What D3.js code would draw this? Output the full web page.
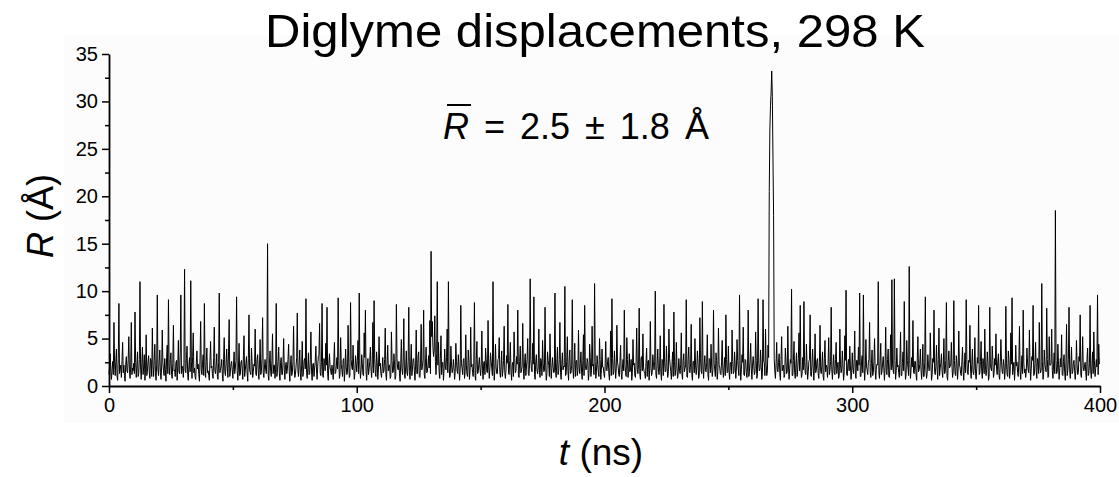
<!DOCTYPE html>
<head>
  <meta charset="utf-8">
  <script src="https://cdn.jsdelivr.net/npm/d3@7/dist/d3.min.js"></script>
  <style>
    body { margin:0; background:#fff; font-family:"Liberation Sans", Arial, sans-serif; }
    svg text { fill:#000; white-space:pre; }
  </style>
</head>
<body>
<script>
// R (Angstrom); one row = 10 ns
// samples at t = 0, 0.5, 1.0 ... ns
var rWhole = [
  1.2,3.4,0.7,2.6,6.7,1.1,3.9,0.6,8.7,1.8,0.9,4.6,2.2,0.5,3.1,1.4,5.2,0.8,6.7,1.9,
  2.4,7.8,0.9,3.6,1.3,11.0,0.7,4.1,2.0,0.6,5.4,1.5,3.2,0.8,2.7,6.1,1.0,4.4,0.6,9.6,
  1.1,3.8,0.7,5.9,1.6,2.9,0.5,4.3,9.1,1.2,3.5,0.8,6.4,1.7,2.5,0.6,4.8,1.3,9.6,2.1,
  0.9,12.3,1.4,4.2,0.6,3.0,11.1,0.8,5.6,1.9,0.7,3.7,2.3,0.5,6.8,1.2,3.3,8.7,0.9,4.0,
  1.6,0.6,4.7,2.1,0.8,6.2,1.3,3.4,0.7,9.8,1.8,2.8,0.5,5.1,1.1,3.9,0.9,7.0,1.5,2.6,
  0.8,3.6,1.9,9.4,0.6,4.5,1.2,2.7,0.7,5.3,1.6,3.1,0.5,7.5,1.4,4.0,0.9,2.3,6.0,1.1,
  3.3,0.7,4.9,1.5,7.2,0.9,2.8,1.3,15.0,0.6,3.7,1.0,5.5,2.2,0.8,8.7,1.7,4.1,0.6,3.0,
  1.2,5.0,0.7,2.5,1.8,4.4,0.5,3.2,1.4,6.3,0.9,2.1,7.7,1.0,3.8,0.6,4.7,1.5,2.9,9.2,
  0.8,3.5,1.3,5.7,0.6,2.4,1.9,4.2,0.7,3.1,6.6,1.1,8.7,0.9,2.6,4.5,8.3,0.6,3.4,1.6,
  2.2,0.7,4.6,1.4,3.0,9.3,0.8,5.1,1.7,2.7,0.5,3.9,1.2,6.4,0.9,8.8,2.0,4.3,0.7,3.2,
  1.5,4.8,9.8,0.8,3.3,1.2,5.6,8.0,0.6,2.9,1.8,4.1,0.9,6.7,9.0,1.3,3.6,0.7,5.2,2.4,
  0.9,3.0,1.6,6.1,0.6,4.3,2.2,0.8,5.7,1.4,3.4,0.7,8.6,1.9,2.6,0.5,4.9,1.2,7.1,0.8,
  3.7,1.1,8.3,0.7,4.4,1.8,2.9,0.6,5.9,1.3,3.6,0.9,6.5,2.1,8.0,0.8,4.1,1.5,3.2,6.9,
  14.2,6.8,3.1,7.4,1.2,11.0,4.6,0.8,5.3,2.4,0.6,3.9,1.7,6.0,11.0,0.9,4.2,1.4,2.8,0.7,
  4.5,1.6,3.3,0.6,8.5,1.9,2.7,0.8,5.4,1.2,3.8,0.7,6.2,2.3,1.0,8.8,0.6,4.7,1.4,3.0,
  1.1,5.8,0.7,2.6,4.0,1.5,6.9,0.8,3.5,1.9,11.0,0.6,4.4,1.3,2.8,5.1,0.9,3.7,1.6,6.3,
  0.8,3.2,8.6,1.2,4.6,0.6,2.5,5.7,1.4,3.1,8.0,0.9,4.2,1.7,6.6,0.7,3.4,2.0,5.0,1.1,
  11.3,1.8,4.5,9.4,0.7,3.3,1.3,6.0,0.9,2.7,4.8,1.5,8.3,0.6,3.6,2.2,5.5,0.8,3.0,1.4,
  9.8,0.9,4.1,1.6,6.7,0.7,3.5,2.1,10.5,1.2,5.2,0.6,3.8,1.4,9.1,0.8,4.5,2.6,1.1,5.9,
  1.3,3.6,0.7,5.4,8.5,1.7,2.9,0.6,4.4,1.0,6.3,2.3,10.8,0.8,3.2,1.5,5.0,0.7,3.9,2.0,
  0.9,4.7,1.6,3.0,0.6,5.8,9.2,1.2,3.7,0.8,6.4,2.1,1.0,4.3,0.7,2.8,8.0,1.4,5.1,0.9,
  3.4,1.8,0.6,4.9,2.4,0.9,6.1,1.3,8.2,0.7,3.1,5.5,1.5,0.8,4.0,2.6,0.6,6.8,1.1,3.3,
  1.7,10.0,0.8,3.9,1.2,5.3,0.6,2.7,8.6,1.5,4.2,0.9,6.0,2.2,0.7,3.6,7.8,1.1,4.6,0.8,
  2.9,1.3,5.6,0.7,3.4,1.9,9.1,0.9,4.1,1.4,6.5,0.6,2.6,5.0,1.2,3.7,0.8,7.2,1.6,8.9,
  0.8,3.2,1.5,5.4,0.6,2.8,4.4,1.0,8.0,1.7,3.5,0.7,6.1,2.0,1.2,4.8,0.9,3.0,7.5,1.4,
  4.2,0.7,2.5,5.9,1.3,3.6,0.8,4.9,1.8,9.6,0.6,3.3,6.2,1.1,2.7,0.9,8.0,1.5,4.5,0.7,
  3.1,1.2,5.7,0.8,9.2,1.6,3.8,0.7,9.1,2.4,6.0,1.1,4.3,20.5,29.6,33.2,24.0,2.9,0.8,4.6,
  1.5,3.4,0.6,5.2,2.0,0.9,4.0,1.3,6.3,0.7,2.8,10.2,1.1,4.7,0.8,3.5,1.8,5.6,8.5,0.9,
  3.0,8.9,1.4,4.4,0.7,2.6,7.5,1.0,3.9,0.6,5.5,1.7,2.9,0.8,6.4,1.3,3.6,0.6,4.8,2.2,
  0.9,5.1,1.6,8.3,0.7,3.3,1.2,4.6,2.0,0.8,6.0,1.4,3.7,0.6,5.3,10.1,1.1,2.8,4.2,0.7,
  3.5,1.3,5.8,0.8,2.7,4.1,9.8,1.0,3.2,9.6,0.6,4.9,1.7,2.5,6.7,0.9,3.8,1.4,5.0,0.7,
  2.3,11.0,0.8,4.5,1.5,3.1,0.6,6.2,1.2,3.9,0.9,5.4,11.2,1.6,11.3,0.7,4.0,2.2,0.9,5.7,
  1.1,3.6,8.9,0.7,4.8,1.9,12.6,0.8,3.0,6.9,1.3,2.6,0.6,5.2,1.7,3.9,0.7,4.4,1.0,9.4,
  0.8,3.3,1.6,5.6,0.6,2.9,8.0,1.2,4.3,0.7,6.1,1.9,3.4,0.9,5.0,1.4,8.8,0.6,3.7,2.1,
  4.6,0.9,9.0,1.3,3.2,0.7,5.8,2.0,1.1,4.1,0.6,3.5,9.1,1.5,2.7,6.4,0.8,3.9,1.2,5.1,
  0.7,3.0,8.5,1.4,4.7,0.8,2.4,6.0,1.1,3.6,0.6,8.3,1.8,4.2,0.9,2.9,5.5,1.2,3.4,0.7,
  4.9,1.5,2.8,0.7,8.4,1.2,3.7,0.8,5.6,9.3,1.9,0.6,4.3,2.5,1.0,6.3,0.7,3.2,8.0,1.4,
  0.9,4.0,1.7,5.9,0.6,3.1,8.5,1.2,4.6,0.8,2.6,6.7,1.4,10.8,0.7,3.8,1.9,8.2,0.9,5.2,
  2.2,6.0,0.8,3.5,18.5,1.3,4.4,0.7,2.9,5.4,1.1,3.3,0.6,6.5,1.6,8.3,0.8,4.1,1.5,2.7,
  0.7,4.8,1.2,3.1,7.5,0.9,5.2,1.6,2.5,0.6,4.0,1.3,8.5,0.8,3.6,5.7,1.0,2.8,9.6,4.4
];
// samples at t = 0.25, 0.75, 1.25 ... ns
var rQuarter = [
  2.1,1.5,1.8,1.2,2.4,2.6,1.0,2.9,1.3,2.2,2.7,1.4,1.1,2.3,1.6,2.8,1.7,2.0,1.2,1.6,
  1.3,2.5,2.2,1.0,2.8,1.9,2.4,1.2,3.3,1.7,1.1,2.6,1.5,2.9,1.0,2.2,2.7,1.4,2.3,1.8,
  2.6,1.4,2.0,2.5,1.1,1.7,3.0,1.3,2.2,2.8,1.2,2.4,1.6,1.0,2.7,2.1,1.5,3.4,1.3,1.9,
  2.4,1.6,2.9,1.2,2.1,1.5,2.6,3.1,1.4,1.0,2.5,1.8,1.2,2.9,1.7,2.3,1.1,2.2,2.6,1.4,
  1.1,2.7,1.9,1.3,3.0,1.6,2.2,1.0,2.5,1.4,2.1,1.2,2.8,1.5,2.4,1.9,3.6,1.0,2.3,1.7,
  2.2,1.3,2.7,1.6,2.0,1.1,2.5,1.8,3.2,1.0,2.4,1.4,2.9,1.7,1.2,2.6,1.5,2.1,1.3,2.8,
  1.6,2.3,1.2,2.9,1.4,2.0,1.7,3.1,1.1,2.4,1.5,2.7,1.3,2.2,1.8,1.0,2.6,1.4,2.5,1.2,
  2.5,1.7,2.1,1.3,2.8,1.5,2.3,1.1,2.6,1.9,1.2,3.0,1.6,2.4,1.3,2.2,1.0,2.7,1.8,1.4,
  2.0,1.2,2.8,1.5,2.3,1.0,2.6,1.7,2.1,3.3,1.4,2.5,1.1,2.9,1.6,2.2,1.3,2.4,1.9,1.2,
  1.5,2.6,1.3,2.1,1.8,2.7,1.2,2.3,1.0,2.9,1.6,2.0,1.4,2.5,1.1,2.8,1.7,2.2,1.3,2.4,
  2.7,1.3,2.2,1.6,2.4,1.1,3.0,1.5,2.0,1.2,2.6,1.8,2.3,1.4,2.9,1.0,2.5,1.7,2.1,1.3,
  1.9,1.4,2.8,1.2,2.5,1.6,2.2,1.0,2.7,1.5,2.3,1.1,2.9,1.7,1.3,2.4,1.8,2.6,1.2,2.0,
  1.4,2.6,1.5,2.3,1.1,2.8,1.6,2.1,1.3,3.2,1.0,2.4,1.7,2.7,1.2,2.5,1.4,2.2,1.9,1.3,
  5.2,4.1,3.8,2.6,3.4,2.2,1.5,2.9,1.2,2.5,1.8,2.1,3.0,1.4,2.6,1.1,2.3,1.7,2.0,1.5,
  2.6,1.3,2.1,1.7,2.4,1.2,2.9,1.5,2.2,1.0,2.7,1.6,2.0,1.4,2.5,1.1,2.8,1.3,2.3,1.8,
  2.3,1.6,2.5,1.2,2.8,1.4,2.1,1.9,2.6,1.1,2.4,1.7,2.0,1.3,2.9,1.5,2.2,1.0,2.7,1.4,
  1.7,2.4,1.3,2.7,1.5,2.2,1.0,2.9,1.6,2.3,1.2,2.6,1.4,2.1,1.8,2.5,1.1,2.8,1.3,2.2,
  2.8,1.5,2.3,1.2,2.6,1.7,2.0,1.4,2.9,1.1,2.4,1.6,2.2,1.3,2.7,1.0,2.5,1.8,2.1,1.5,
  1.6,2.5,1.2,2.8,1.4,2.3,1.7,2.0,1.1,2.6,1.5,2.9,1.3,2.2,1.9,2.4,1.0,2.7,1.6,2.1,
  2.4,1.4,2.7,1.1,2.2,1.8,2.5,1.3,3.0,1.6,2.1,1.2,2.6,1.5,2.3,1.0,2.8,1.7,2.0,1.3,
  2.1,1.7,2.6,1.3,2.4,1.1,2.9,1.5,2.2,1.8,2.5,1.2,2.7,1.4,2.0,1.6,2.3,1.0,2.8,1.5,
  1.5,2.8,1.4,2.2,1.1,2.6,1.7,2.3,1.2,2.9,1.6,2.0,1.3,2.5,1.0,2.7,1.8,2.1,1.4,2.4,
  2.6,1.2,2.4,1.8,2.1,1.4,2.8,1.1,2.5,1.6,2.2,1.3,2.9,1.5,2.3,1.0,2.6,1.7,2.0,1.4,
  1.8,2.3,1.3,2.7,1.5,2.1,1.0,2.8,1.6,2.4,1.2,2.6,1.4,2.2,1.9,2.5,1.1,2.9,1.3,2.0,
  2.3,1.6,2.5,1.2,2.9,1.4,2.1,1.7,2.4,1.0,2.7,1.5,2.2,1.3,2.6,1.8,2.0,1.1,2.8,1.5,
  1.6,2.4,1.3,2.6,1.5,2.2,1.9,2.7,1.1,2.3,1.7,2.5,1.2,2.8,1.4,2.1,1.0,2.6,1.8,2.2,
  2.2,1.5,2.7,1.3,2.4,1.8,2.1,1.4,2.6,1.1,2.3,1.6,3.0,27.0,31.0,30.5,18.0,1.5,2.4,1.7,
  2.5,1.3,2.8,1.6,2.2,1.2,2.6,1.5,2.0,1.8,2.4,1.1,2.7,1.4,2.3,1.0,2.9,1.6,2.1,1.3,
  1.7,2.6,1.2,2.3,1.5,2.8,1.1,2.4,1.9,2.1,1.4,2.7,1.3,2.5,1.6,2.2,1.0,2.9,1.5,2.0,
  2.4,1.2,2.6,1.7,2.1,1.4,2.8,1.3,2.5,1.1,2.3,1.8,2.0,1.5,2.7,1.2,2.4,1.6,2.2,1.4,
  1.9,2.5,1.3,2.7,1.6,2.2,1.0,2.6,1.4,2.3,1.8,2.1,1.2,2.8,1.5,2.4,1.1,2.6,1.7,2.0,
  2.2,1.4,2.6,1.2,2.4,1.9,2.1,1.5,2.8,1.0,2.5,1.7,2.3,1.3,2.7,1.6,2.0,1.4,2.9,1.1,
  2.5,1.6,2.2,1.3,2.7,1.1,2.4,1.8,2.0,1.4,2.6,1.2,2.9,1.5,2.3,1.7,2.1,1.0,2.5,1.6,
  1.4,2.3,1.7,2.6,1.2,2.5,1.5,2.1,1.8,2.8,1.1,2.4,1.6,2.2,1.3,2.7,1.0,2.6,1.9,2.2,
  2.1,1.5,2.7,1.1,2.4,1.8,2.2,1.3,2.6,1.6,2.0,1.4,2.8,1.2,2.5,1.7,2.3,1.5,2.1,1.3,
  1.8,2.4,1.2,2.6,1.5,2.9,1.3,2.1,1.7,2.5,1.0,2.3,1.6,2.7,1.4,2.2,1.8,2.6,1.1,2.4,
  2.6,1.3,2.2,1.7,2.4,1.0,2.8,1.5,2.3,1.2,2.5,1.9,2.1,1.4,2.7,1.6,2.0,1.3,2.4,1.8,
  1.5,2.5,1.4,2.2,1.8,2.7,1.1,2.4,1.6,2.9,1.3,2.0,1.7,2.6,1.2,2.3,1.5,2.8,1.0,2.2,
  2.4,1.6,2.1,1.3,2.7,1.5,2.3,1.8,2.0,1.2,2.6,1.4,2.5,1.1,2.8,1.7,2.2,1.3,2.4,1.6,
  1.7,2.3,1.4,2.6,1.2,2.5,1.9,2.1,1.5,2.8,1.1,2.4,1.6,2.2,1.3,2.7,1.8,2.0,1.2,2.3
];
var xTicks = [0, 100, 200, 300, 400];
var yTicks = [0, 5, 10, 15, 20, 25, 30, 35];
var titleText = "Diglyme displacements, 298 K";
var meanText = " = 2.5 \u00b1 1.8 \u00c5";

var width = 1119, height = 477;
var svg = d3.select("body").append("svg")
  .attr("width", width).attr("height", height);

// very light panel behind the plot, as in the scanned figure
svg.append("rect").attr("x", 64).attr("y", 35)
  .attr("width", width - 64).attr("height", 388).attr("fill", "#fcfcfc");

var x = d3.scaleLinear().domain([0, 400]).range([109, 1100]);
var y = d3.scaleLinear().domain([0, 35]).range([386, 54]);

var points = rWhole.map(function(r, i) { return { t: i * 0.5, r: r }; })
  .concat(rQuarter.map(function(r, i) { return { t: i * 0.5 + 0.25, r: r }; }))
  .sort(function(a, b) { return a.t - b.t; });

var line = d3.line()
  .x(function(d) { return x(d.t); })
  .y(function(d) { return y(d.r); });

svg.append("path").datum(points)
  .attr("d", line)
  .attr("fill", "none")
  .attr("stroke", "#000")
  .attr("stroke-width", 1.0);

// minor ticks
svg.append("g").attr("transform", "translate(0,386)")
  .call(d3.axisBottom(x).tickValues([50, 150, 250, 350]).tickSize(4).tickFormat(""))
  .call(function(g) { g.select(".domain").remove(); });
svg.append("g").attr("transform", "translate(109,0)")
  .call(d3.axisLeft(y).tickValues([2.5, 7.5, 12.5, 17.5, 22.5, 27.5, 32.5]).tickSize(4).tickFormat(""))
  .call(function(g) { g.select(".domain").remove(); });

var xAxis = svg.append("g").attr("transform", "translate(0,386)")
  .call(d3.axisBottom(x).tickValues(xTicks).tickSize(7).tickSizeOuter(0).tickPadding(5));
var yAxis = svg.append("g").attr("transform", "translate(109,0)")
  .call(d3.axisLeft(y).tickValues(yTicks).tickSize(7).tickSizeOuter(0).tickPadding(4));

svg.selectAll(".tick line").attr("stroke", "#000").attr("stroke-width", 1.5);
svg.selectAll(".domain").attr("stroke", "#000").attr("stroke-width", 1.8);
svg.selectAll(".tick text")
  .style("font-family", "'Liberation Sans', Arial, sans-serif")
  .style("font-size", "20px").attr("fill", "#000");

// title
svg.append("text").attr("x", 595).attr("y", 47)
  .attr("text-anchor", "middle")
  .attr("textLength", 660).attr("lengthAdjust", "spacingAndGlyphs")
  .style("font-size", "47px")
  .text(titleText);

// mean annotation: R with an overbar
var rTxt = svg.append("text").attr("x", 443).attr("y", 139)
  .style("font-size", "36px").style("font-style", "italic")
  .text("R");
var rw = rTxt.node().getComputedTextLength();
svg.append("line")
  .attr("x1", 447).attr("x2", 443 + rw + 2)
  .attr("y1", 105).attr("y2", 105)
  .attr("stroke", "#000").attr("stroke-width", 2);
svg.append("text").attr("x", 443 + rw).attr("y", 139)
  .style("font-size", "36px").style("word-spacing", "5px")
  .text(meanText);

// axis titles
var yl = svg.append("text")
  .attr("transform", "translate(53,216) rotate(-90)")
  .attr("text-anchor", "middle")
  .style("font-size", "36px");
yl.append("tspan").style("font-style", "italic").text("R");
yl.append("tspan").text(" (\u00c5)");

var xl = svg.append("text")
  .attr("x", 601).attr("y", 465)
  .attr("text-anchor", "middle")
  .style("font-size", "37px");
xl.append("tspan").style("font-style", "italic").text("t");
xl.append("tspan").text(" (ns)");
</script>
</body>
